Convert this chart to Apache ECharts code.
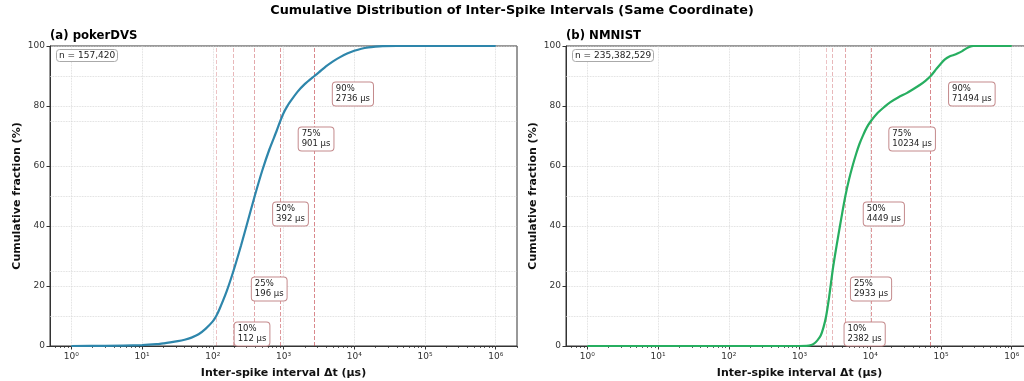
<!DOCTYPE html>
<html>
<head>
<meta charset="utf-8">
<script src="https://cdn.jsdelivr.net/npm/echarts@6/dist/echarts.min.js"></script>
<style>
  html, body { margin: 0; padding: 0; background: #fff; }
  #chart { width: 1024px; height: 381px; }
</style>
</head>
<body>
<div id="chart"></div>
<script>
/* ── Data ── */
const PANEL_TITLES = ['(a) pokerDVS', '(b) NMNIST'];
const PANEL_COUNTS = ['n = 157,420', 'n = 235,382,529'];

// CDF of pokerDVS: Δt (μs) and cumulative %
const POKER_DT  = [1, 3, 10, 16, 20, 25, 32, 40, 50, 63, 79, 100, 112, 126, 158, 196, 251, 316, 392, 501, 631, 794, 901, 1000, 1122, 1259, 1585, 1995, 2736, 3162, 3981, 5012, 6310, 7943, 10000, 12589, 15849, 19953, 25119, 39811, 1000000];
const POKER_CDF = [0, 0.05, 0.3, 0.6, 0.9, 1.2, 1.6, 2.1, 2.8, 3.9, 5.7, 8.2, 10, 12.6, 18.4, 25, 33.5, 42, 50, 58.5, 65.5, 71.5, 75, 77.6, 79.8, 81.6, 84.8, 87.3, 90, 91.2, 93.2, 94.9, 96.3, 97.5, 98.4, 99.1, 99.55, 99.8, 99.95, 100, 100];

// CDF of NMNIST
const NMNIST_DT  = [1, 1000, 1259, 1413, 1585, 1778, 1995, 2188, 2382, 2630, 2933, 3162, 3548, 3981, 4449, 5012, 5623, 6310, 7079, 7943, 8913, 10234, 12589, 15849, 19055, 25119, 32734, 39811, 50119, 60256, 71494, 85114, 100000, 114815, 131826, 151356, 173780, 199526, 229087, 257040, 288403, 1000000];
const NMNIST_CDF = [0, 0, 0.05, 0.2, 0.7, 1.8, 3.5, 6.3, 10, 16.5, 25, 30, 37, 43.8, 50, 55.5, 60, 64, 67.5, 70.3, 72.8, 75, 77.6, 79.7, 81.2, 82.9, 84.3, 85.5, 87, 88.4, 90, 92.2, 94.2, 95.6, 96.5, 97.0, 97.6, 98.3, 99.2, 99.8, 100, 100];

// percentile markers
const PCTS = [10, 25, 50, 75, 90];
const POKER_Q  = [112, 196, 392, 901, 2736];
const NMNIST_Q = [2382, 2933, 4449, 10234, 71494];

// axes
const X_DECADES = [0, 1, 2, 3, 4, 5, 6];

/* ── Style ── */
const FONT = 'DejaVu Sans';
const LINE_COLORS = ['#2e86ab', '#27ae60'];
const Q_ALPHA = [0.3, 0.36, 0.44, 0.52, 0.6];
const XMIN = Math.log10(0.5), XMAX = Math.log10(2e6);
const SUP = ['⁰', '¹', '²', '³', '⁴', '⁵', '⁶'];
const GRID_LINE = { type: 'dotted', color: '#d4d4d4', width: 0.8 };

// minor log ticks (2..9 of each decade)
const MINOR = [Math.log10(0.6), Math.log10(0.7), Math.log10(0.8), Math.log10(0.9)];
X_DECADES.forEach(d => { for (let k = 2; k <= 9; k++) MINOR.push(d + Math.log10(k)); });

const grids = [
    { left: 50, right: 507, top: 46, bottom: 35 },
    { left: 566, right: -9, top: 46, bottom: 35 },
];

const chart = echarts.init(document.getElementById('chart'), null, { renderer: 'canvas' });

function buildSeries(i, dts, cdf, qs) {
    return {
        type: 'line',
        xAxisIndex: i * 2,
        yAxisIndex: i,
        data: dts.map((d, j) => [Math.log10(d), cdf[j]]),
        showSymbol: false,
        smooth: 0.25,
        lineStyle: { color: LINE_COLORS[i], width: 2.2 },
        z: 5,
        markLine: {
            silent: true,
            symbol: 'none',
            label: { show: false },
            data: [
                ...qs.map((q, j) => ({
                    xAxis: Math.log10(q),
                    lineStyle: { color: `rgba(192,57,63,${Q_ALPHA[j]})`, type: [4, 2], width: 1 },
                })),
                ...PCTS.map(p => ({ yAxis: p, lineStyle: GRID_LINE })),
            ],
        },
        markPoint: {
            silent: true,
            symbol: 'rect',
            symbolSize: 0,
            data: qs.map((q, j) => ({
                coord: [Math.log10(q) + 0.26, PCTS[j] - 6],
                label: {
                    show: true,
                    position: 'right',
                    distance: 0,
                    formatter: `${PCTS[j]}%\n${q} μs`,
                    fontFamily: FONT,
                    fontSize: 8.5,
                    lineHeight: 10,
                    color: '#222',
                    align: 'left',
                    backgroundColor: '#fff',
                    borderColor: '#c48a8c',
                    borderWidth: 1,
                    borderRadius: 3,
                    padding: [2, 3, 1, 3],
                },
            })),
        },
    };
}

const xAxes = [], yAxes = [];
grids.forEach((g, i) => {
    xAxes.push({
        gridIndex: i, type: 'value', min: XMIN, max: XMAX, position: 'bottom',
        name: 'Inter-spike interval Δt (μs)', nameLocation: 'middle', nameGap: 22,
        nameTextStyle: { fontFamily: FONT, fontSize: 11, fontWeight: 'bold', color: '#111' },
        axisLine: { onZero: false, lineStyle: { color: '#333', width: 1 } },
        axisTick: { customValues: X_DECADES, length: 3.5, lineStyle: { color: '#333' } },
        axisLabel: {
            customValues: X_DECADES, fontFamily: FONT, fontSize: 9, color: '#333', margin: 6,
            formatter: v => '10' + SUP[Math.round(v)],
        },
        splitLine: { show: true, lineStyle: GRID_LINE },
    });
    xAxes.push({
        gridIndex: i, type: 'value', min: XMIN, max: XMAX, position: 'bottom',
        axisLine: { show: true, onZero: false, lineStyle: { color: '#333', width: 1 } },
        axisTick: { show: true, customValues: MINOR, length: 2, lineStyle: { color: '#333', width: 0.8 } },
        axisLabel: { show: false },
        splitLine: { show: false },
    });
    yAxes.push({
        gridIndex: i, type: 'value', min: 0, max: 100, interval: 20,
        name: 'Cumulative fraction (%)', nameLocation: 'middle', nameGap: 27,
        nameTextStyle: { fontFamily: FONT, fontSize: 11, fontWeight: 'bold', color: '#111' },
        axisLine: { show: true, onZero: false, lineStyle: { color: '#333' } },
        axisTick: { show: true, length: 3.5, lineStyle: { color: '#333' } },
        axisLabel: { fontFamily: FONT, fontSize: 9, color: '#333', margin: 5 },
        splitLine: { show: true, lineStyle: GRID_LINE },
    });
});

chart.setOption({
    animation: false,
    title: [
        {
            text: 'Cumulative Distribution of Inter-Spike Intervals (Same Coordinate)',
            left: 'center', top: 4, padding: 0,
            textStyle: { fontFamily: FONT, fontSize: 12.8, fontWeight: 'bold', color: '#000' },
        },
        ...PANEL_TITLES.map((t, i) => ({
            text: t, left: grids[i].left, top: 30, padding: 0,
            textStyle: { fontFamily: FONT, fontSize: 11.7, fontWeight: 'bold', color: '#000' },
        })),
        ...PANEL_COUNTS.map((t, i) => ({
            text: t, left: grids[i].left + 6, top: 49,
            padding: [2, 3, 2, 3],
            backgroundColor: '#fff', borderColor: '#aaa', borderWidth: 1, borderRadius: 3,
            textStyle: { fontFamily: FONT, fontSize: 9, fontWeight: 'normal', color: '#222' },
        })),
    ],
    grid: grids.map(g => ({
        ...g, show: true, borderColor: '#333', borderWidth: 1, backgroundColor: 'transparent',
        outerBoundsMode: 'none', containLabel: false,
    })),
    xAxis: xAxes,
    yAxis: yAxes,
    series: [
        buildSeries(0, POKER_DT, POKER_CDF, POKER_Q),
        buildSeries(1, NMNIST_DT, NMNIST_CDF, NMNIST_Q),
    ],
});
</script>
</body>
</html>
